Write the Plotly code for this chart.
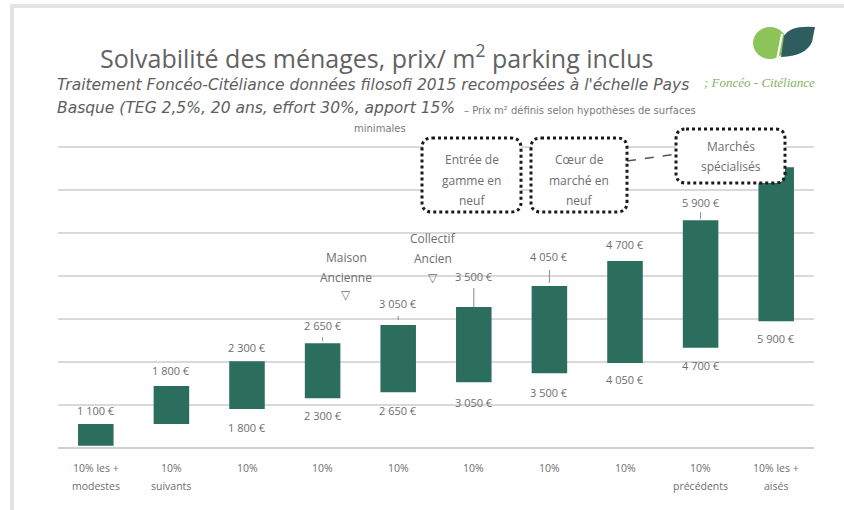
import plotly.graph_objects as go

# ---- data ----
categories = ["10% les +<br>modestes", "10%<br>suivants", "10%", "10%", "10%", "10%", "10%", "10%",
              "10%<br>précédents", "10% les +<br>aisés"]
bar_bottom = [0.05, 0.56, 0.91, 1.16, 1.30, 1.53, 1.74, 1.98, 2.33, 2.95]
bar_top = [0.56, 1.44, 2.02, 2.44, 2.86, 3.28, 3.77, 4.35, 5.30, 6.53]
top_labels = ["1 100 €", "1 800 €", "2 300 €", "2 650 €", "3 050 €", "3 500 €", "4 050 €", "4 700 €", "5 900 €", ""]
bottom_labels = ["", "", "1 800 €", "2 300 €", "2 650 €", "3 050 €", "3 500 €", "4 050 €", "4 700 €", "5 900 €"]

# ---- style / layout constants ----
W, H = 844, 510
PL, PR, PT, PB = 58, 814, 145, 448
BAR_COLOR = "#2b6e5e"
TXT = "#6e6e6e"
FONT = "Open Sans"
top_offset = [13, 16, 14, 18, 22, 31, 29, 17, 18, 0]
bottom_offset = [0, 0, 19, 17, 18, 20, 19, 17, 18, 17]
leaders = {3: (2, 6), 4: (5, 9), 5: (0, 19), 6: (3, 16), 8: (1, 8)}


def px(x):
    return (x - PL) / (PR - PL)


def py(y):
    return (PB - y) / (PB - PT)


def rrect(x0, y0, x1, y1, r=10):
    X0, X1 = px(x0), px(x1)
    Y0, Y1 = py(y0), py(y1)
    rx = r / (PR - PL)
    ry = r / (PB - PT)
    return (f"M {X0+rx} {Y0} L {X1-rx} {Y0} Q {X1} {Y0} {X1} {Y0-ry} "
            f"L {X1} {Y1+ry} Q {X1} {Y1} {X1-rx} {Y1} L {X0+rx} {Y1} "
            f"Q {X0} {Y1} {X0} {Y1+ry} L {X0} {Y0-ry} Q {X0} {Y0} {X0+rx} {Y0} Z")


ann = []
shapes = []


def text_at(x, y, txt, size, color=TXT, family=FONT, xanchor="center"):
    ann.append(dict(x=px(x), y=py(y), xref="paper", yref="paper", text=txt, showarrow=False,
                    xanchor=xanchor, yanchor="middle", font=dict(family=family, size=size, color=color)))


def lines_at(x, ys, lines, size, color=TXT):
    for y, t in zip(ys, lines):
        text_at(x, y, t, size, color)


xs = list(range(len(categories)))
fig = go.Figure()
fig.add_trace(go.Bar(
    x=xs,
    y=[t - b for t, b in zip(bar_top, bar_bottom)],
    base=bar_bottom,
    marker=dict(color=BAR_COLOR, line=dict(width=0)),
    width=0.47,
    hoverinfo="skip",
))

lblfont = dict(family=FONT, size=11, color=TXT)
for i in xs:
    if top_labels[i]:
        ann.append(dict(x=i, y=bar_top[i], xref="x", yref="y", text=top_labels[i], showarrow=False,
                        yshift=top_offset[i], font=lblfont, yanchor="middle"))
    if bottom_labels[i]:
        ann.append(dict(x=i, y=bar_bottom[i], xref="x", yref="y", text=bottom_labels[i], showarrow=False,
                        yshift=-bottom_offset[i], font=lblfont, yanchor="middle"))
    # category labels, one annotation per line for the wide line spacing
    for k, part in enumerate(categories[i].split("<br>")):
        ann.append(dict(x=i, y=py(468 + 18 * k), xref="x", yref="paper", text=part, showarrow=False,
                        yanchor="middle", font=dict(family=FONT, size=10.5, color=TXT)))
for i, (a, b) in leaders.items():
    shapes.append(dict(type="line", xref="x", yref="y", ysizemode="pixel", yanchor=bar_top[i],
                       x0=i, x1=i, y0=a, y1=b, line=dict(color="#8a8a8a", width=1)))

# frame
shapes.append(dict(type="line", xref="paper", yref="paper", x0=px(12), x1=px(12), y0=py(6), y1=py(515),
                   line=dict(color="#e3e3e3", width=4)))
shapes.append(dict(type="line", xref="paper", yref="paper", x0=px(10), x1=px(850), y0=py(6), y1=py(6),
                   line=dict(color="#e3e3e3", width=4)))

# callout boxes
shapes.append(dict(type="line", xref="paper", yref="paper", x0=px(627), x1=px(676), y0=py(161), y1=py(154),
                   line=dict(color="#555555", width=1.5, dash="dash")))
boxes = [
    ((422, 138, 521, 212), ["Entrée de", "gamme en", "neuf"], [159, 180, 200]),
    ((531, 138, 627, 212), ["Cœur de", "marché en", "neuf"], [159, 180, 200]),
    ((676, 129, 785, 183), ["Marchés", "spécialisés"], [146, 166]),
]
for (x0, y0, x1, y1), lines, ys in boxes:
    shapes.append(dict(type="path", xref="paper", yref="paper", path=rrect(x0, y0, x1, y1),
                       fillcolor="white", line=dict(color="#1a1a1a", width=3, dash="dot"), layer="above"))
    lines_at((x0 + x1) / 2, ys, lines, 12)

# text labels in chart
lines_at(346, [257, 277, 294], ["Maison", "Ancienne", "▽"], 12)
lines_at(433, [238, 258, 277], ["Collectif", "Ancien", "▽"], 12)

# titles
text_at(376, 56, "Solvabilité des ménages, prix/ m<sup>2</sup> parking inclus", 25, "#626262")
text_at(55, 85, "<i>Traitement Foncéo-Citéliance données filosofi 2015 recomposées à l'échelle Pays</i>",
        15.5, "#5e5e5e", family="DejaVu Sans", xanchor="left")
text_at(55, 108, "<i>Basque (TEG 2,5%, 20 ans, effort 30%, apport 15%</i>", 15.5, "#5e5e5e",
        family="DejaVu Sans", xanchor="left")
text_at(462, 110, "– Prix m² définis selon hypothèses de surfaces", 10, "#7a7a7a",
        family="DejaVu Sans", xanchor="left")
text_at(380, 128, "minimales", 10, "#7a7a7a", family="DejaVu Sans")

# logo
shapes.append(dict(type="circle", xref="paper", yref="paper", x0=px(753), x1=px(787), y0=py(27), y1=py(59),
                   fillcolor="#8cc45a", line=dict(width=0)))
shapes.append(dict(type="path", xref="paper", yref="paper",
                   path=(f"M {px(781)} {py(57)} L {px(784)} {py(36)} Q {px(790)} {py(25)} {px(815)} {py(27)} "
                         f"L {px(812)} {py(42)} Q {px(806)} {py(56)} {px(781)} {py(57)} Z"),
                   fillcolor="#2f5d5f", line=dict(width=0)))
shapes.append(dict(type="line", xref="paper", yref="paper", x0=px(777), x1=px(782), y0=py(60), y1=py(34),
                   line=dict(color="white", width=2)))
text_at(702, 82, "<i>; Foncéo - Citéliance</i>", 13, "#7fb35e", family="Liberation Serif", xanchor="left")

fig.update_layout(
    width=W, height=H,
    margin=dict(l=PL, r=W - PR, t=PT, b=H - PB),
    paper_bgcolor="white", plot_bgcolor="white",
    showlegend=False,
    xaxis=dict(range=[-0.5, 9.5], showticklabels=False,
               showgrid=False, zeroline=False, showline=False, ticks=""),
    yaxis=dict(range=[0, 7.05], dtick=1, showgrid=True, gridcolor="#d9d9d9", gridwidth=2,
               zeroline=True, zerolinecolor="#cfcfcf", zerolinewidth=2, showticklabels=False),
    annotations=ann,
    shapes=shapes,
)
fig.write_html("out.html", config={"displayModeBar": False},
               post_script="document.body.style.margin='0';document.body.style.overflow='hidden';")
